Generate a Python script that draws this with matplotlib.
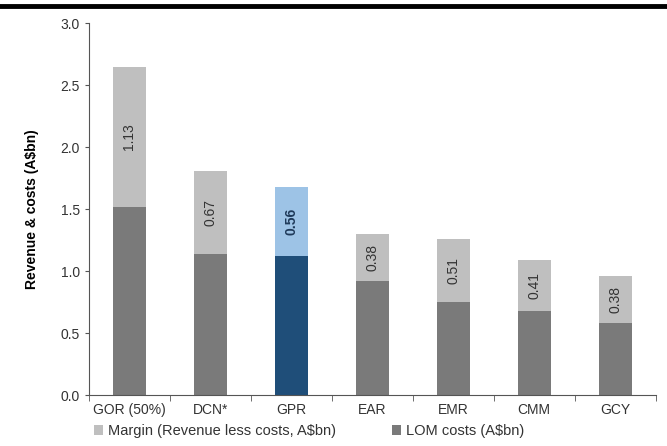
import numpy as np
import matplotlib
matplotlib.use('Agg')
import matplotlib.pyplot as plt
from matplotlib.patches import Patch
from matplotlib.lines import Line2D

plt.rcParams['font.family'] = ['Liberation Sans', 'DejaVu Sans']

#==============================================================================
# Data
#==============================================================================
companies = ['GOR (50%)', 'DCN*', 'GPR', 'EAR', 'EMR', 'CMM', 'GCY']
lom_costs = [1.52, 1.14, 1.12, 0.92, 0.75, 0.68, 0.58]
margin = [1.13, 0.67, 0.56, 0.38, 0.51, 0.41, 0.38]
margin_labels = ['1.13', '0.67', '0.56', '0.38', '0.51', '0.41', '0.38']
highlight = 'GPR'

c_cost = '#7a7a7a'
c_margin = '#bfbfbf'
c_cost_hl = '#1f4e79'
c_margin_hl = '#9dc3e6'

#==============================================================================
# Plot
#==============================================================================
fig = plt.figure(figsize=(6.67, 4.46), dpi=100)
ax = fig.add_axes([0.133, 0.114, 0.85, 0.834])

x = np.arange(len(companies))
cost_cols = [c_cost_hl if c == highlight else c_cost for c in companies]
marg_cols = [c_margin_hl if c == highlight else c_margin for c in companies]

ax.bar(x, lom_costs, width=0.41, color=cost_cols)
ax.bar(x, margin, width=0.41, bottom=lom_costs, color=marg_cols)

for i, c in enumerate(companies):
    yc = lom_costs[i] + margin[i] / 2
    col = '#1f3a5a' if c == highlight else '#333333'
    ax.text(x[i], yc, margin_labels[i], rotation=90, ha='center', va='center',
            fontsize=10, color=col, fontweight='bold' if c == highlight else 'normal')

ax.set_xlim(-0.5, len(companies) - 0.5)
ax.set_ylim(0, 3.0)
ax.set_yticks(np.arange(0, 3.01, 0.5))
ax.set_yticklabels(['%.1f' % v for v in np.arange(0, 3.01, 0.5)],
                   fontsize=10, color='#333333')
ax.set_xticks(x)
ax.set_xticklabels(companies, fontsize=10, color='#333333')
ax.tick_params(axis='x', length=0, pad=6)
ax.tick_params(axis='y', length=3, color='#555555')
ax.set_xticks(np.arange(-0.5, len(companies)), minor=True)
ax.tick_params(axis='x', which='minor', length=4, color='#555555')

for s in ['top', 'right']:
    ax.spines[s].set_visible(False)
ax.spines['left'].set_color('#555555')
ax.spines['bottom'].set_color('#555555')

ax.set_ylabel(r'Revenue & costs (A\$bn)', fontsize=10, fontweight='bold',
              labelpad=15)

handles = [Patch(facecolor=c_margin), Patch(facecolor=c_cost)]
fig.legend(handles, [r'Margin (Revenue less costs, A\$bn)', r'LOM costs (A\$bn)'],
           loc='lower left', bbox_to_anchor=(0.122, -0.012), ncol=2, frameon=False,
           fontsize=10.5, handlelength=0.6, handleheight=0.6, handletextpad=0.3,
           columnspacing=3.9, labelcolor='#333333')

# thick rule across the top
fig.add_artist(Line2D([0, 1], [0.987, 0.987], transform=fig.transFigure,
                      color='black', linewidth=3.5))

plt.savefig('out.png', dpi=100)
